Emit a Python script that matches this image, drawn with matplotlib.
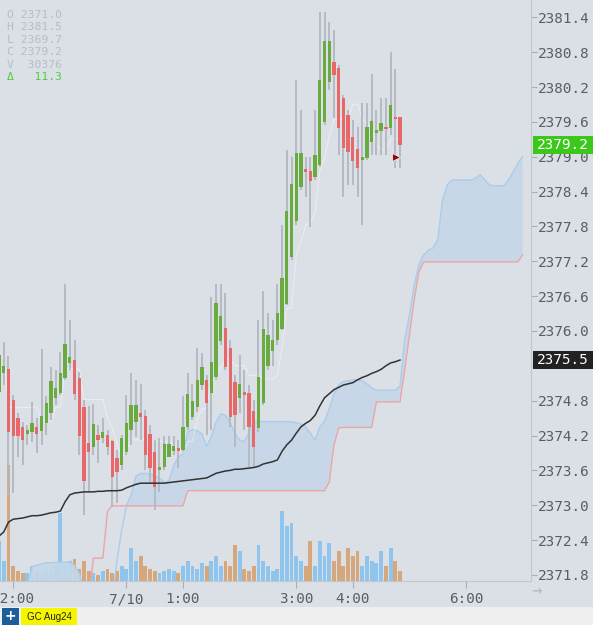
"""
GC Aug24 5-minute chart: candles, volume, cloud and average line.
"""

import numpy as np
import pandas as pd
import matplotlib
matplotlib.use("Agg")  # no display
import matplotlib.pyplot as plt
from matplotlib.patches import Rectangle
from matplotlib.transforms import blended_transform_factory

plt.rcParams["font.family"] = ["DejaVu Sans Mono", "DejaVu Sans"]

# ── 5-minute bars, 22:00 (7/9) .. 4:50 (7/10) ──
opens = [2374.95, 2375.28, 2375.35, 2374.81, 2374.50, 2374.35, 2374.23, 2374.26, 2374.35, 2374.28,
         2374.42, 2374.59, 2374.85, 2374.93, 2375.19, 2375.45, 2375.50, 2375.19, 2374.69, 2374.07,
         2374.00, 2374.21, 2374.16, 2374.21, 2374.11, 2373.81, 2373.69, 2373.92, 2374.30, 2374.43,
         2374.59, 2374.54, 2374.23, 2373.92, 2373.61, 2373.66, 2373.83, 2373.93, 2373.98, 2373.95,
         2374.35, 2374.52, 2374.69, 2375.07, 2375.16, 2374.93, 2375.21, 2375.83, 2376.05, 2375.71,
         2375.13, 2374.85, 2374.95, 2374.93, 2374.62, 2374.33, 2374.76, 2375.40, 2375.66, 2375.84,
         2376.03, 2376.47, 2377.27, 2377.89, 2378.48, 2378.79, 2378.75, 2378.65, 2378.86, 2379.60,
         2380.29, 2380.63, 2380.53, 2380.01, 2379.72, 2379.34, 2379.13, 2378.94, 2378.98, 2379.25,
         2379.41, 2379.44, 2379.51, 2379.49, 2379.68, 2379.68]
highs = [2376.19, 2375.81, 2375.57, 2374.90, 2374.59, 2374.43, 2374.38, 2374.78, 2374.50, 2375.69,
         2374.88, 2375.38, 2375.33, 2375.64, 2376.81, 2376.19, 2375.84, 2375.29, 2374.81, 2374.71,
         2374.74, 2374.38, 2374.50, 2374.30, 2374.12, 2373.95, 2374.21, 2374.90, 2375.28, 2375.16,
         2375.09, 2374.64, 2374.38, 2374.12, 2374.16, 2374.19, 2374.19, 2374.19, 2374.12, 2374.88,
         2375.28, 2375.09, 2375.71, 2375.62, 2375.24, 2376.59, 2376.81, 2376.81, 2376.66, 2375.84,
         2375.24, 2375.59, 2375.33, 2375.07, 2374.81, 2376.19, 2376.69, 2376.31, 2376.19, 2376.81,
         2377.82, 2379.12, 2378.99, 2380.32, 2379.80, 2378.99, 2378.99, 2379.80, 2381.50, 2381.50,
         2381.32, 2381.18, 2380.58, 2380.06, 2379.80, 2379.63, 2379.51, 2379.92, 2379.92, 2380.42,
         2379.80, 2380.01, 2380.01, 2380.80, 2380.51, 2379.68]
lows = [2374.90, 2375.07, 2373.18, 2373.21, 2373.83, 2373.69, 2374.04, 2374.09, 2373.90, 2374.04,
        2374.21, 2374.47, 2374.73, 2374.90, 2375.16, 2375.33, 2374.81, 2373.86, 2372.83, 2373.23,
        2373.86, 2373.72, 2374.07, 2373.86, 2372.97, 2373.04, 2373.61, 2373.86, 2374.04, 2374.18,
        2374.12, 2373.61, 2373.38, 2372.92, 2373.23, 2373.61, 2373.83, 2373.86, 2373.64, 2373.92,
        2374.30, 2374.47, 2374.60, 2374.98, 2374.21, 2374.30, 2375.16, 2375.76, 2375.33, 2374.35,
        2374.00, 2374.59, 2374.30, 2373.66, 2373.66, 2374.26, 2374.73, 2375.33, 2375.40, 2375.76,
        2376.02, 2376.45, 2377.22, 2377.82, 2378.43, 2378.31, 2377.79, 2378.60, 2378.83, 2379.55,
        2380.15, 2379.67, 2379.03, 2378.31, 2378.51, 2378.51, 2378.31, 2377.82, 2378.94, 2379.03,
        2379.03, 2379.03, 2379.03, 2379.37, 2378.81, 2378.81]
closes = [2375.59, 2375.40, 2374.26, 2374.19, 2374.19, 2374.12, 2374.30, 2374.42, 2374.23, 2374.54,
          2374.76, 2375.14, 2375.02, 2375.28, 2375.78, 2375.55, 2374.92, 2374.19, 2373.42, 2373.92,
          2374.40, 2374.12, 2374.26, 2374.00, 2373.49, 2373.57, 2374.16, 2374.42, 2374.73, 2374.73,
          2374.52, 2373.86, 2373.64, 2373.31, 2373.66, 2374.05, 2374.05, 2374.02, 2373.93, 2374.35,
          2374.92, 2374.80, 2375.16, 2375.38, 2374.76, 2375.47, 2376.48, 2376.26, 2375.38, 2374.52,
          2374.55, 2375.09, 2374.90, 2374.35, 2374.00, 2375.21, 2376.03, 2375.93, 2375.84, 2376.31,
          2376.91, 2378.07, 2378.53, 2379.06, 2379.06, 2378.74, 2378.58, 2379.03, 2380.32, 2380.99,
          2380.99, 2380.41, 2379.49, 2379.15, 2379.08, 2378.93, 2378.81, 2378.99, 2379.51, 2379.61,
          2379.46, 2379.58, 2379.48, 2379.89, 2379.65, 2379.20]
volumes = [680, 340, 1972, 255, 170, 136, 136, 255, 170, 136,
           204, 170, 255, 1156, 255, 340, 374, 204, 340, 170,
           136, 102, 170, 204, 136, 170, 255, 204, 561, 340,
           425, 255, 204, 170, 136, 170, 204, 170, 136, 255,
           340, 255, 204, 306, 255, 340, 425, 255, 340, 255,
           612, 510, 204, 170, 255, 612, 340, 255, 170, 204,
           1190, 935, 986, 425, 340, 255, 680, 255, 680, 425,
           646, 340, 510, 255, 561, 425, 510, 255, 425, 340,
           306, 510, 255, 561, 340, 170]

# black average line, one value per bar
avg_line = [2372.47, 2372.54, 2372.71, 2372.76, 2372.77, 2372.78, 2372.80, 2372.82, 2372.82, 2372.83,
            2372.85, 2372.87, 2372.88, 2372.90, 2373.06, 2373.18, 2373.21, 2373.22, 2373.23, 2373.23,
            2373.23, 2373.24, 2373.24, 2373.25, 2373.25, 2373.25, 2373.26, 2373.30, 2373.33, 2373.36,
            2373.38, 2373.38, 2373.38, 2373.38, 2373.38, 2373.38, 2373.39, 2373.40, 2373.41, 2373.42,
            2373.43, 2373.44, 2373.45, 2373.46, 2373.47, 2373.51, 2373.55, 2373.57, 2373.59, 2373.60,
            2373.62, 2373.62, 2373.63, 2373.64, 2373.65, 2373.67, 2373.71, 2373.73, 2373.75, 2373.78,
            2373.93, 2374.04, 2374.12, 2374.24, 2374.35, 2374.41, 2374.46, 2374.55, 2374.71, 2374.85,
            2374.92, 2374.99, 2375.03, 2375.07, 2375.09, 2375.11, 2375.16, 2375.20, 2375.23, 2375.27,
            2375.30, 2375.34, 2375.40, 2375.45, 2375.47, 2375.50]

# cloud spans, already shifted 26 bars ahead (bars 0..111)
span_a = [2371.37, 2371.37, 2371.37, 2371.37, 2371.37, 2371.37, 2371.63, 2371.95, 2371.97, 2371.99,
          2372.01, 2372.01, 2372.02, 2372.02, 2372.02, 2372.02, 2371.97, 2371.83, 2371.54, 2371.37,
          2371.37, 2371.37, 2371.37, 2371.37, 2371.37, 2372.06, 2372.57, 2372.99, 2373.18, 2373.50,
          2373.55, 2373.55, 2373.54, 2373.50, 2373.47, 2373.40, 2373.42, 2373.68, 2373.83, 2373.88,
          2374.26, 2374.30, 2374.28, 2374.23, 2374.01, 2374.18, 2374.43, 2374.57, 2374.55, 2374.42,
          2374.24, 2374.12, 2374.09, 2374.26, 2374.44, 2374.44, 2374.44, 2374.44, 2374.44, 2374.44,
          2374.44, 2374.44, 2374.44, 2374.42, 2374.40, 2374.35, 2374.24, 2374.12, 2374.35, 2374.44,
          2374.66, 2374.92, 2375.07, 2375.13, 2375.14, 2375.16, 2375.16, 2375.14, 2375.09, 2375.02,
          2374.98, 2374.98, 2374.98, 2374.98, 2374.98, 2375.05, 2375.85, 2376.28, 2376.79, 2377.14,
          2377.31, 2377.39, 2377.43, 2377.57, 2378.25, 2378.51, 2378.60, 2378.60, 2378.60, 2378.60,
          2378.60, 2378.63, 2378.69, 2378.60, 2378.51, 2378.50, 2378.50, 2378.50, 2378.60, 2378.74,
          2378.89, 2379.00]
span_b = [2371.37] * 20 + [2372.09, 2372.09, 2372.09, 2372.90] + [2372.99] * 16 + \
         [2373.25] * 30 + [2373.40, 2374.04, 2374.33] + [2374.34] * 7 + [2374.78] * 6 + \
         [2375.33, 2375.93, 2376.53, 2377.02] + [2377.19] * 21 + [2377.31]

price_ticks = [2371.8, 2372.4, 2373.0, 2373.6, 2374.2, 2374.8, 2375.4, 2376.0, 2376.6,
               2377.2, 2377.8, 2378.4, 2379.0, 2379.6, 2380.2, 2380.8, 2381.4]
time_ticks = [3, 27, 39, 63, 75, 99]
time_labels = ["22:00", "7/10", "1:00", "3:00", "4:00", "6:00"]

# session header
header = [("O", "2371.0"), ("H", "2381.5"), ("L", "2369.7"), ("C", "2379.2"), ("V", "30376")]
session_change = 11.3
fill_bar, fill_price = 84.2, 2379.0   # order marker

BG = "#dbe0e7"
GREEN = "#6aab3f"
RED = "#e8686a"
WICK = "#b3b8c0"
VOL_UP = "#8fc4ec"
VOL_DN = "#d4a87c"

W, H = 593, 625
fig = plt.figure(figsize=(W / 100, H / 100), dpi=100, facecolor=BG)
rect = [0, 44 / H, 531 / W, 581 / H]
xlim = (0.2, 112.77)

# ── volume (own scale, underneath) ──
ax_vol = fig.add_axes(rect, facecolor=BG)
o = np.array(opens)
c = np.array(closes)
x = np.arange(len(c))
up = c >= o
ax_vol.bar(x, volumes, width=0.82, color=np.where(up, VOL_UP, VOL_DN), linewidth=0)
ax_vol.set_xlim(*xlim)
ax_vol.set_ylim(0, 9877)
ax_vol.axis("off")

# ── price ──
ax = fig.add_axes(rect)
ax.patch.set_visible(False)
xs = np.arange(len(span_a))
sa = np.array(span_a)
sb = np.array(span_b)
ax.fill_between(xs, sa, sb, where=sa >= sb, interpolate=True, color="#c5d7e8", alpha=0.9,
                linewidth=0, zorder=1)
ax.plot(xs, sa, color="#a9cdec", lw=1.0, zorder=1.5)
ax.plot(xs, sb, color="#eda5a5", lw=1.0, zorder=1.5)

tenkan = (pd.Series(highs).rolling(9, min_periods=1).max()
          + pd.Series(lows).rolling(9, min_periods=1).min()) / 2
ax.plot(x, tenkan, color="white", lw=0.8, alpha=0.4, zorder=2.5)

ax.vlines(x, lows, highs, color=WICK, lw=1.3, zorder=3)
ax.bar(x, c - o, bottom=o, width=0.7, color=np.where(up, GREEN, RED), linewidth=0, zorder=4)

ax.plot(x, avg_line, color="#333333", lw=1.1, zorder=5)
ax.plot(fill_bar, fill_price, marker=">", ms=6, color="#8a0c0c", mec="white", mew=0.5, zorder=6)

ax.set_xlim(*xlim)
ax.set_ylim(2371.696, 2381.698)
for side in ("left", "top"):
    ax.spines[side].set_visible(False)
for side in ("right", "bottom"):
    ax.spines[side].set_color("#c2c7ce")

# the average-line box covers the 2375.4 label
ax.yaxis.tick_right()
ax.set_yticks(price_ticks, ["" if abs(p - avg_line[-1]) < 0.15 else f"{p:.1f}" for p in price_ticks])
ax.tick_params(axis="y", length=4, pad=1, color="#a9aeb5", labelcolor="#5a5e64", labelsize=10.4)
ax.set_xticks(time_ticks, time_labels)
ax.tick_params(axis="x", length=5, pad=3, color="#a9aeb5", labelcolor="#5a5e64", labelsize=10.4)

# ── last-value boxes on the price scale ──
box_tr = blended_transform_factory(fig.transFigure, ax.transData)
for value, color in ((closes[-1], "#3cc81b"), (avg_line[-1], "#222222")):
    ax.add_patch(Rectangle((533 / W, value - 0.155), 60 / W, 0.31, transform=box_tr,
                           facecolor=color, edgecolor="none", clip_on=False, zorder=10))
    ax.text(563 / W, value, f"{value:.1f}", transform=box_tr, color="white", fontsize=10.4,
            ha="center", va="center", clip_on=False, zorder=11)

# ── header text ──
for k, (name, val) in enumerate(header):
    fig.text(7 / W, 1 - (15 + 12.4 * k) / H, f"{name} {val:>6}", color="#b7bdc6",
             fontsize=8.2, va="center")
fig.text(7 / W, 1 - 77 / H, f"Δ {session_change:>6.1f}", color="#52cc3e", fontsize=8.2,
         va="center")

# ── bottom strip ──
fig.patches.append(Rectangle((0, 0), 1, 18 / H, transform=fig.transFigure,
                             facecolor="#efefef", edgecolor="none"))
fig.patches.append(Rectangle((2 / W, 0), 17 / W, 17 / H, transform=fig.transFigure,
                             facecolor="#1d5d9c", edgecolor="none"))
fig.text(10.5 / W, 8.5 / H, "+", color="white", fontsize=10, fontweight="bold",
         ha="center", va="center", family="DejaVu Sans")
fig.patches.append(Rectangle((21 / W, 0), 56 / W, 17 / H, transform=fig.transFigure,
                             facecolor="#f6f500", edgecolor="none"))
fig.text(49 / W, 8.5 / H, "GC Aug24", color="#222222", fontsize=7, ha="center", va="center",
         family="Liberation Sans")
fig.text(537 / W, 1 - 591 / H, "→", color="#b9bec6", fontsize=9, fontweight="bold",
         ha="center", va="center", family="DejaVu Sans")

fig.savefig("out.png", dpi=100, facecolor=BG)
plt.close(fig)
